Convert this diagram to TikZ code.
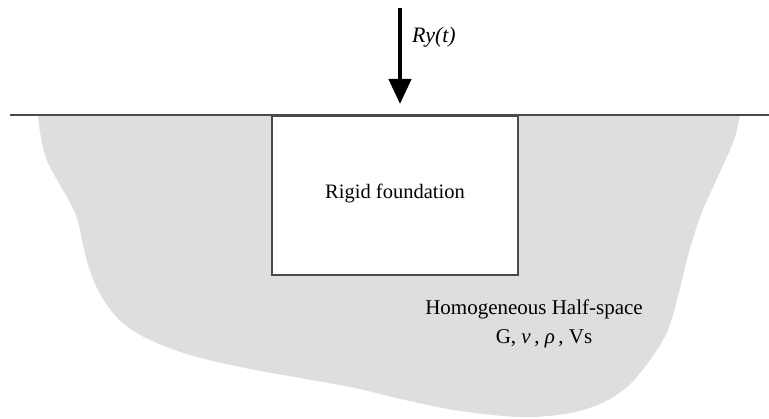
\documentclass[tikz,border=0pt]{standalone}
\usepackage{fontspec}
\setmainfont{Liberation Serif}
\usetikzlibrary{arrows.meta}
\definecolor{soil}{HTML}{DEDEDE}
\definecolor{edge}{HTML}{4A4A4A}
\tikzset{
  lbl/.style={font=\fontsize{20.5}{24}\selectfont, inner sep=0pt, text=black},
  found/.style={draw=edge, line width=1.6pt, fill=white, minimum width=246pt, minimum height=159pt, inner sep=0pt, anchor=north west},
  load/.style={line width=4.5pt, -{Triangle[width=22pt,length=25pt]}},
  ground/.style={draw=edge, line width=2.2pt}
}
\begin{document}
\begin{tikzpicture}[x=1pt,y=-1pt]
\useasboundingbox (0,0) rectangle (769,419);
% soil half-space
\fill[soil] plot[smooth, tension=0.55] coordinates {(38,115) (40,132) (46,158) (56,178) (68,199) (77,218) (83,245) (89,268) (97,288) (109,308) (125,325) (150,340) (190,355) (245,368) (300,378) (355,388) (405,400) (460,411) (520,417) (565,414) (600,404) (627,387) (650,360) (668,330) (679,292) (689,252) (702,212) (720,172) (734,140) (740,115)} -- cycle;
% ground surface
\coordinate (gl) at (10,115);
\coordinate (gr) at (769,115);
\draw[ground] (gl) -- (gr);
% foundation
\node[found] (fnd) at (271,115) {};
\node[lbl] (ftxt) at (395,193) {Rigid foundation};
% load
\coordinate (ltop) at (400,8);
\coordinate (ltip) at (400,104);
\draw[load] (ltop) -- (ltip);
\node[lbl, font=\fontsize{22}{26}\selectfont\itshape] (ry) at (434,37) {Ry(t)};
% half-space label
\node[lbl, font=\fontsize{21}{24}\selectfont] (hs) at (534,309) {Homogeneous Half-space};
\node[lbl, font=\fontsize{21}{24}\selectfont] (par) at (544,339) {G, \textit{ν}\,, \textit{ρ}\,, Vs};
\end{tikzpicture}
\end{document}
